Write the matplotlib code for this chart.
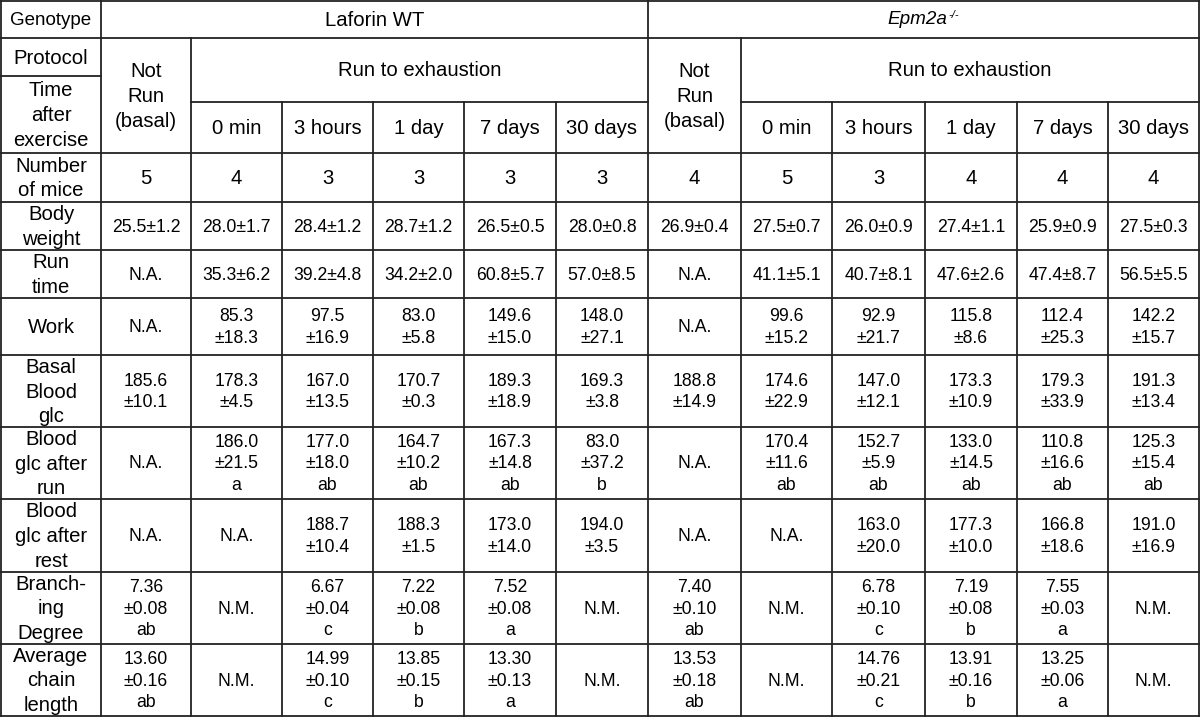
import matplotlib.pyplot as plt

plt.rcParams['font.family'] = ['Liberation Sans', 'DejaVu Sans']

# column / row labels
genotypes = ["Laforin WT", "Epm2a"]
protocols = ["Not\nRun\n(basal)", "Run to exhaustion"]
times = ["0 min", "3 hours", "1 day", "7 days", "30 days"]
row_labels = ["Number\nof mice", "Body\nweight", "Run\ntime", "Work",
              "Basal\nBlood\nglc", "Blood\nglc after\nrun", "Blood\nglc after\nrest",
              "Branch-\ning\nDegree", "Average\nchain\nlength"]

# values: 6 WT columns then 6 Epm2a-/- columns
number_of_mice = ["5", "4", "3", "3", "3", "3", "4", "5", "3", "4", "4", "4"]
body_weight = ["25.5±1.2", "28.0±1.7", "28.4±1.2", "28.7±1.2", "26.5±0.5", "28.0±0.8",
               "26.9±0.4", "27.5±0.7", "26.0±0.9", "27.4±1.1", "25.9±0.9", "27.5±0.3"]
run_time = ["N.A.", "35.3±6.2", "39.2±4.8", "34.2±2.0", "60.8±5.7", "57.0±8.5",
            "N.A.", "41.1±5.1", "40.7±8.1", "47.6±2.6", "47.4±8.7", "56.5±5.5"]
work = ["N.A.", "85.3\n±18.3", "97.5\n±16.9", "83.0\n±5.8", "149.6\n±15.0", "148.0\n±27.1",
        "N.A.", "99.6\n±15.2", "92.9\n±21.7", "115.8\n±8.6", "112.4\n±25.3", "142.2\n±15.7"]
basal_glc = ["185.6\n±10.1", "178.3\n±4.5", "167.0\n±13.5", "170.7\n±0.3", "189.3\n±18.9",
             "169.3\n±3.8", "188.8\n±14.9", "174.6\n±22.9", "147.0\n±12.1", "173.3\n±10.9",
             "179.3\n±33.9", "191.3\n±13.4"]
glc_after_run = ["N.A.", "186.0\n±21.5\na", "177.0\n±18.0\nab", "164.7\n±10.2\nab",
                 "167.3\n±14.8\nab", "83.0\n±37.2\nb", "N.A.", "170.4\n±11.6\nab",
                 "152.7\n±5.9\nab", "133.0\n±14.5\nab", "110.8\n±16.6\nab", "125.3\n±15.4\nab"]
glc_after_rest = ["N.A.", "N.A.", "188.7\n±10.4", "188.3\n±1.5", "173.0\n±14.0", "194.0\n±3.5",
                  "N.A.", "N.A.", "163.0\n±20.0", "177.3\n±10.0", "166.8\n±18.6", "191.0\n±16.9"]
branching = ["7.36\n±0.08\nab", "N.M.", "6.67\n±0.04\nc", "7.22\n±0.08\nb", "7.52\n±0.08\na",
             "N.M.", "7.40\n±0.10\nab", "N.M.", "6.78\n±0.10\nc", "7.19\n±0.08\nb",
             "7.55\n±0.03\na", "N.M."]
chain_length = ["13.60\n±0.16\nab", "N.M.", "14.99\n±0.10\nc", "13.85\n±0.15\nb",
                "13.30\n±0.13\na", "N.M.", "13.53\n±0.18\nab", "N.M.", "14.76\n±0.21\nc",
                "13.91\n±0.16\nb", "13.25\n±0.06\na", "N.M."]
table = [number_of_mice, body_weight, run_time, work, basal_glc,
         glc_after_run, glc_after_rest, branching, chain_length]

# grid geometry in pixels
xs = [1, 101, 191, 282, 373, 464, 556, 648, 741, 832, 925, 1017, 1108, 1199]
ys = [153, 202, 250, 298, 355, 427, 499, 572, 644, 716]

fig = plt.figure(figsize=(12, 7.21), dpi=100)
ax = fig.add_axes([0, 0, 1, 1])
ax.set_xlim(0, 1200)
ax.set_ylim(721, 0)
ax.axis('off')

lc = '#222222'
lw = 1.3

def hline(y, x0, x1):
    ax.plot([x0, x1], [y, y], color=lc, lw=lw, solid_capstyle='projecting')

def vline(x, y0, y1):
    ax.plot([x, x], [y0, y1], color=lc, lw=lw, solid_capstyle='projecting')

# horizontal lines
hline(1, xs[0], xs[-1])
hline(38, xs[0], xs[-1])
hline(76, xs[0], xs[1])
hline(102, xs[2], xs[7])
hline(102, xs[8], xs[-1])
for y in ys:
    hline(y, xs[0], xs[-1])

# vertical lines
for i in [0, 1, 7, 13]:
    vline(xs[i], 1, ys[-1])
for i in [2, 8]:
    vline(xs[i], 38, ys[-1])
for i in [3, 4, 5, 6, 9, 10, 11, 12]:
    vline(xs[i], 102, ys[-1])

fs_head = 14.6
fs_data = 12.7
ls = 1.38

def cell(x0, x1, y0, y1, s, fs=fs_data, **kw):
    ax.text((x0 + x1) / 2, (y0 + y1) / 2 + 1, s, ha='center', va='center',
            fontsize=fs, linespacing=ls, color='black', **kw)

# left header column
cell(xs[0], xs[1], 1, 38, "Genotype", fs=13.5)
cell(xs[0], xs[1], 38, 76, "Protocol", fs=fs_head)
cell(xs[0], xs[1], 76, 153, "Time\nafter\nexercise", fs=fs_head)

# genotype headers
cell(xs[1], xs[7], 1, 38, genotypes[0], fs=fs_head)
t = ax.text((xs[7] + xs[13]) / 2 - 6, 20, genotypes[1], ha='center', va='center',
            fontsize=fs_head - 1, style='italic', color='black')
ax.annotate("-/-", xy=(1, 1), xycoords=t, xytext=(1, 1), textcoords='offset points',
            ha='left', va='top', fontsize=8, style='italic', color='black')

for g in range(2):
    off = 6 * g
    cell(xs[1 + off], xs[2 + off], 38, 153, protocols[0], fs=fs_head)
    cell(xs[2 + off], xs[7 + off], 38, 102, protocols[1], fs=fs_head)
    for k, lab in enumerate(times):
        cell(xs[2 + off + k], xs[3 + off + k], 102, 153, lab, fs=fs_head)

# body rows
for r, (lab, vals) in enumerate(zip(row_labels, table)):
    cell(xs[0], xs[1], ys[r], ys[r + 1], lab, fs=fs_head)
    for c, v in enumerate(vals):
        fs = fs_head if r == 0 else fs_data
        cell(xs[c + 1], xs[c + 2], ys[r], ys[r + 1], v, fs=fs)

fig.savefig('out.png', dpi=100, facecolor='white')
